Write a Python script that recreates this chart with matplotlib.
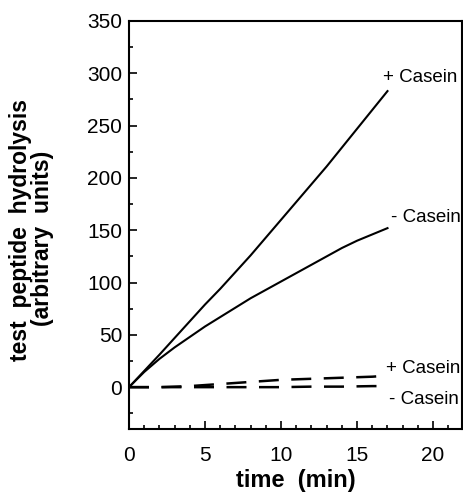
import numpy as np
import matplotlib
matplotlib.use("Agg")
import matplotlib.pyplot as plt
from matplotlib.ticker import MultipleLocator

plt.rcParams['font.family'] = ['Liberation Sans', 'DejaVu Sans']

# solid lines
t_solid = [0, 1, 2, 3, 4, 5, 6, 7, 8, 9, 10, 11, 12, 13, 14, 15, 16, 17]
plus_casein = [0, 15.5, 31, 47, 63, 79, 94, 110, 126, 143, 160, 177, 194, 211, 229, 247, 265, 283]
minus_casein = [0, 14.5, 27, 38, 48, 58, 67, 76, 85, 93, 101, 109, 117, 125, 133, 140, 146, 152]

# dashed lines (control)
t_dash = [0, 2, 4, 6, 8, 10, 12, 14, 16, 17]
plus_casein_ctrl = [0, 0, 1, 3, 5, 7, 8, 9, 10, 11]
minus_casein_ctrl = [0, 0, 0, 0, 0, 0, 0.5, 0.5, 1, 1]

fig = plt.figure(figsize=(4.63, 4.97), dpi=100)
ax = fig.add_axes([129 / 463, 68 / 497, 333 / 463, 408 / 497])

ax.plot(t_solid, plus_casein, color='black', lw=1.5)
ax.plot(t_solid, minus_casein, color='black', lw=1.5)
ax.plot(t_dash, plus_casein_ctrl, color='black', lw=1.8, dashes=(8, 5))
ax.plot(t_dash, minus_casein_ctrl, color='black', lw=1.8, dashes=(8, 5))

ax.text(16.7, 296, '+ Casein', fontsize=13.5, va='center', ha='left')
ax.text(17.2, 162, '- Casein', fontsize=13.5, va='center', ha='left')
ax.text(16.9, 18, '+ Casein', fontsize=13.5, va='center', ha='left')
ax.text(17.1, -12, '- Casein', fontsize=13.5, va='center', ha='left')

ax.set_xlim(0, 21.9)
ax.set_ylim(-40, 350)
ax.xaxis.set_major_locator(MultipleLocator(5))
ax.xaxis.set_minor_locator(MultipleLocator(1))
ax.yaxis.set_major_locator(MultipleLocator(50))
ax.yaxis.set_minor_locator(MultipleLocator(25))
ax.tick_params(which='both', direction='in', top=False, right=False, labelsize=15, width=1.2)
ax.tick_params(which='major', length=6)
ax.tick_params(which='minor', length=3)
ax.tick_params(axis='x', which='major', pad=12)
ax.tick_params(axis='y', which='major', pad=5)
for s in ax.spines.values():
    s.set_linewidth(1.5)

ax.set_xlabel('time  (min)', fontsize=17, fontweight='bold', labelpad=3)
fig.text(21 / 463, 1 - 230 / 497, 'test  peptide  hydrolysis', rotation=90,
         fontsize=16.5, fontweight='bold', ha='center', va='center')
fig.text(43 / 463, 1 - 238 / 497, '(arbitrary  units)', rotation=90,
         fontsize=16.5, fontweight='bold', ha='center', va='center')

fig.savefig('out.png', dpi=100)
